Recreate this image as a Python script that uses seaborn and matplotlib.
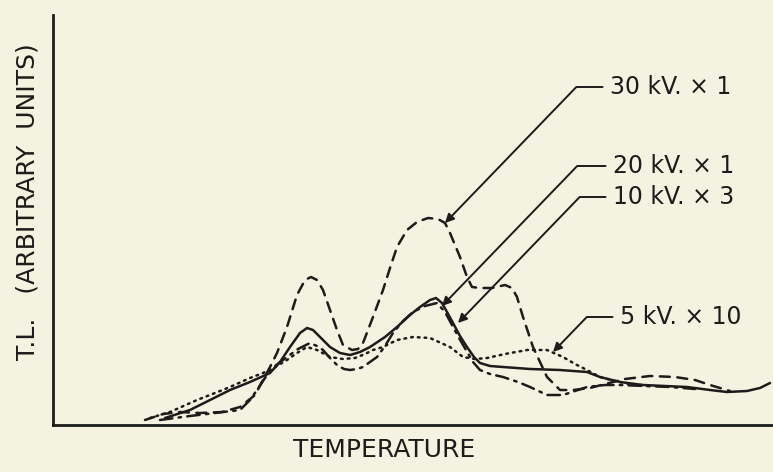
import pandas as pd
import matplotlib
matplotlib.use('Agg')
import matplotlib.pyplot as plt
import seaborn as sns

# glow curves (temperature, T.L. in arbitrary units)
t_30kv = [92, 110, 127, 147, 169, 187, 202, 210, 217, 224, 234, 244, 252, 258, 264, 270, 277, 284,
          290, 299, 305, 310, 320, 330, 337, 344, 354, 364, 375, 385, 392, 397, 407, 414, 419, 427,
          439, 452, 459, 464, 470, 480, 494, 507, 520, 537, 552, 572, 597, 622, 642, 657, 677]
tl_30kv = [5, 11, 13, 12, 13, 18, 30, 45, 58, 72, 98, 130, 145, 148, 145, 135, 115, 95,
           80, 75, 76, 82, 108, 135, 157, 178, 195, 203, 207, 206, 202, 192, 168, 148, 138, 137,
           137, 140, 137, 128, 108, 78, 48, 35, 35, 37, 41, 46, 49, 48, 45, 40, 34]

t_20kv = [112, 137, 157, 177, 197, 217, 227, 237, 247, 254, 260, 267, 277, 287, 297, 307, 317, 332,
          344, 357, 367, 377, 383, 389, 394, 400, 407, 414, 421, 427, 437, 450, 477, 507, 534, 547,
          567, 590, 612, 634, 657, 674, 694, 707, 717]
tl_20kv = [7, 15, 25, 35, 43, 52, 63, 78, 92, 97, 95, 88, 78, 72, 70, 73, 78, 88,
           98, 110, 118, 125, 127, 122, 113, 102, 89, 78, 68, 62, 59, 58, 56, 55, 53, 48,
           43, 40, 39, 38, 35, 33, 34, 37, 42]

t_10kv = [107, 137, 162, 187, 197, 204, 212, 222, 234, 245, 257, 264, 270, 277, 284, 291, 297, 304,
          310, 317, 324, 332, 340, 350, 360, 372, 384, 392, 399, 406, 413, 420, 427, 437, 450, 465,
          477, 494, 510, 522, 534, 552, 567, 592, 617, 642]
tl_10kv = [5, 9, 12, 15, 25, 35, 47, 59, 68, 76, 82, 79, 75, 67, 60, 56, 55, 56,
           58, 63, 68, 79, 92, 104, 113, 119, 122, 113, 100, 87, 75, 63, 55, 51, 48, 43,
           38, 30, 30, 34, 38, 40, 40, 39, 38, 36]

t_5kv = [97, 117, 144, 162, 177, 197, 210, 222, 234, 244, 254, 264, 277, 290, 302, 312, 320, 330,
         344, 360, 377, 397, 410, 422, 434, 452, 474, 494, 510, 522, 534, 547, 562, 577, 597]
tl_5kv = [7, 13, 25, 32, 38, 47, 52, 58, 65, 72, 78, 75, 68, 66, 67, 71, 75, 78,
          85, 88, 87, 78, 68, 66, 67, 71, 75, 75, 68, 61, 55, 48, 44, 41, 39]

labels = ['30 kV. × 1', '20 kV. × 1', '10 kV. × 3', '5 kV. × 10']
# where each leader arrow points, and where its label sits
tips = [(392, 202), (389, 119), (405, 102), (500, 73)]
label_pos = [(557, 338), (560, 259), (560, 228), (567, 108)]

ink = '#1c1c1a'
paper = '#f4f3e2'

sns.set_theme(style='white')
plt.rcParams['font.family'] = ['DejaVu Sans']
plt.rcParams['figure.facecolor'] = paper
plt.rcParams['axes.facecolor'] = paper

fig = plt.figure(figsize=(7.73, 4.72), dpi=100)
ax = fig.add_axes([53 / 773, 47 / 472, 720 / 773, 410 / 472])

curves = [
    (t_30kv, tl_30kv, (0, (4, 3))),
    (t_20kv, tl_20kv, '-'),
    (t_10kv, tl_10kv, (0, (5, 2.5, 1, 2.5))),
    (t_5kv, tl_5kv, (0, (0.7, 2))),
]
for t, tl, ls in curves:
    df = pd.DataFrame({'temperature': t, 'tl': tl})
    sns.lineplot(data=df, x='temperature', y='tl', ax=ax, color=ink, lw=1.8,
                 linestyle=ls, estimator=None, sort=False,
                 dash_capstyle='round', solid_capstyle='round')

for text, tip, pos in zip(labels, tips, label_pos):
    ax.annotate(text, xy=tip, xytext=pos, fontsize=17, color=ink,
                ha='left', va='center',
                arrowprops=dict(arrowstyle='-|>', color=ink, lw=1.4,
                                mutation_scale=13, relpos=(0, 0.5),
                                shrinkA=3, shrinkB=0,
                                connectionstyle='angle,angleA=0,angleB=46,rad=0'))

ax.set_xlim(0, 720)
ax.set_ylim(0, 410)
ax.set_xticks([])
ax.set_yticks([])
for side in ['top', 'right']:
    ax.spines[side].set_visible(False)
for side in ['left', 'bottom']:
    ax.spines[side].set_color(ink)
    ax.spines[side].set_linewidth(2)

ax.set_xlabel('TEMPERATURE', fontsize=18, color=ink, va='center')
ax.xaxis.set_label_coords(0.46, -0.061)
ax.set_ylabel('T.L.   (ARBITRARY  UNITS)', fontsize=18, color=ink, va='center')
ax.yaxis.set_label_coords(-0.036, 0.544)

fig.savefig('out.png', dpi=100, facecolor=paper)
